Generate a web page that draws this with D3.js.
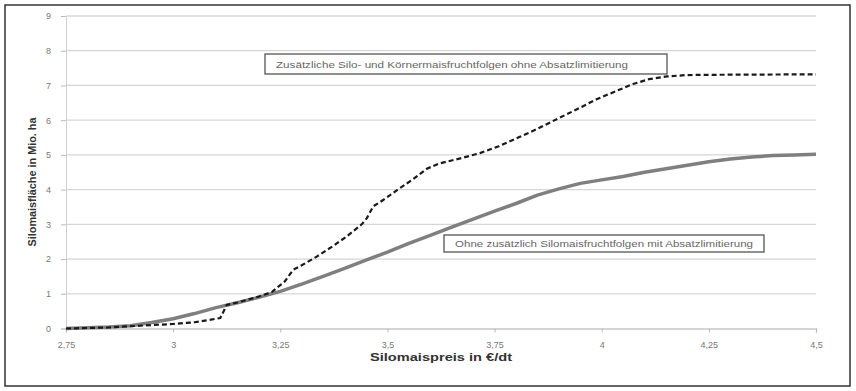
<!DOCTYPE html>
<html><head><meta charset="utf-8">
<script src="https://cdn.jsdelivr.net/npm/d3@7"></script>
<style>body{margin:0;background:#fff;}svg{display:block;font-family:"Liberation Sans",Arial,sans-serif;}</style>
</head><body><svg id="c" width="856" height="391"></svg>
<script>
const xTicks = [2.75, 3, 3.25, 3.5, 3.75, 4, 4.25, 4.5];
const xTickLabels = ["2,75","3","3,25","3,5","3,75","4","4,25","4,5"];
const yTicks = [0,1,2,3,4,5,6,7,8,9];
const solidX = [2.75,2.85,2.9,2.95,3.0,3.05,3.1,3.15,3.2,3.25,3.3,3.35,3.4,3.45,3.5,3.55,3.6,3.65,3.7,3.75,3.8,3.85,3.9,3.95,4.0,4.05,4.1,4.15,4.2,4.25,4.3,4.35,4.4,4.45,4.5];
const solidY = [0,0.04,0.08,0.17,0.28,0.43,0.6,0.74,0.9,1.07,1.28,1.5,1.73,1.97,2.2,2.45,2.68,2.92,3.15,3.38,3.6,3.84,4.02,4.18,4.28,4.38,4.5,4.6,4.7,4.8,4.88,4.94,4.98,5.0,5.02];
const dashX = [2.75,2.85,2.95,3.0,3.05,3.11,3.125,3.15,3.2,3.23,3.26,3.28,3.3,3.335,3.37,3.405,3.44,3.452,3.467,3.49,3.53,3.56,3.592,3.62,3.67,3.716,3.76,3.809,3.85,3.887,3.94,3.988,4.03,4.073,4.11,4.152,4.2,4.3,4.5];
const dashY = [0,0.03,0.1,0.13,0.18,0.3,0.68,0.75,0.92,1.05,1.35,1.69,1.82,2.07,2.35,2.65,3.0,3.18,3.52,3.7,4.05,4.3,4.6,4.75,4.9,5.05,5.25,5.52,5.75,5.98,6.3,6.6,6.82,7.04,7.18,7.26,7.3,7.31,7.32];
const labelDash = "Zusätzliche Silo- und Körnermaisfruchtfolgen ohne Absatzlimitierung";
const labelSolid = "Ohne zusätzlich Silomaisfruchtfolgen mit Absatzlimitierung";
const xTitle = "Silomaispreis in €/dt";
const yTitle = "Silomaisfläche in Mio. ha";

const svg = d3.select("#c");
const x = d3.scaleLinear().domain([2.75,4.5]).range([66,816]);
const y = d3.scaleLinear().domain([0,9]).range([328.5,16]);

svg.append("rect").attr("x",5).attr("y",5).attr("width",845).attr("height",381)
  .attr("fill","#fff").attr("stroke","#333").attr("stroke-width",1.5);

// grid
svg.append("g").selectAll("line").data(yTicks.slice(1)).join("line")
  .attr("x1",66).attr("x2",816).attr("y1",d=>y(d)).attr("y2",d=>y(d))
  .attr("stroke","#d6d6d6").attr("stroke-width",1.3);

// y axis
const ya = svg.append("g").attr("transform","translate(66,0)")
  .call(d3.axisLeft(y).tickValues(yTicks).tickSize(5).tickPadding(10).tickFormat(d3.format("d")));
ya.select(".domain").attr("stroke","#d0d0d0");
ya.selectAll(".tick line").attr("stroke","#bbb");
ya.selectAll("text").attr("fill","#777").attr("font-size",9);

// x axis
const xa = svg.append("g").attr("transform","translate(0,328.5)")
  .call(d3.axisBottom(x).tickValues(xTicks).tickSize(4).tickPadding(9).tickFormat((d,i)=>xTickLabels[i]));
xa.select(".domain").attr("stroke","#c8c8c8").attr("stroke-width",1.3);
xa.selectAll(".tick line").attr("stroke","#bbb");
xa.selectAll("text").attr("fill","#777").attr("font-size",9);

const line = d3.line().x(d=>x(d[0])).y(d=>y(d[1]));
svg.append("path").datum(solidX.map((v,i)=>[v,solidY[i]])).attr("d",line)
  .attr("fill","none").attr("stroke","#7f7f7f").attr("stroke-width",3.5).attr("stroke-linejoin","round");
svg.append("path").datum(dashX.map((v,i)=>[v,dashY[i]])).attr("d",line)
  .attr("fill","none").attr("stroke","#1a1a1a").attr("stroke-width",2.2).attr("stroke-dasharray","5,3");

// annotation boxes
function box(x0,y0,w,h,txt,tx,tw){
  svg.append("rect").attr("x",x0).attr("y",y0).attr("width",w).attr("height",h)
    .attr("fill","#fff").attr("stroke","#555").attr("stroke-width",1.3);
  svg.append("text").attr("x",tx).attr("y",y0+h/2+3.5).attr("font-size",9.5).attr("fill","#666")
    .attr("textLength",tw).attr("lengthAdjust","spacingAndGlyphs").text(txt);
}
box(265,54,402,20,labelDash,276,352);
box(444,235,320,17,labelSolid,455,298);

svg.append("text").attr("x",441).attr("y",361).attr("text-anchor","middle")
  .attr("font-size",11).attr("font-weight","bold").attr("fill","#333")
  .attr("textLength",142).attr("lengthAdjust","spacingAndGlyphs").text(xTitle);
svg.append("text").attr("transform","translate(36,182) rotate(-90)").attr("text-anchor","middle")
  .attr("font-size",11).attr("font-weight","bold").attr("fill","#333")
  .attr("textLength",129).attr("lengthAdjust","spacingAndGlyphs").text(yTitle);
</script></body></html>
